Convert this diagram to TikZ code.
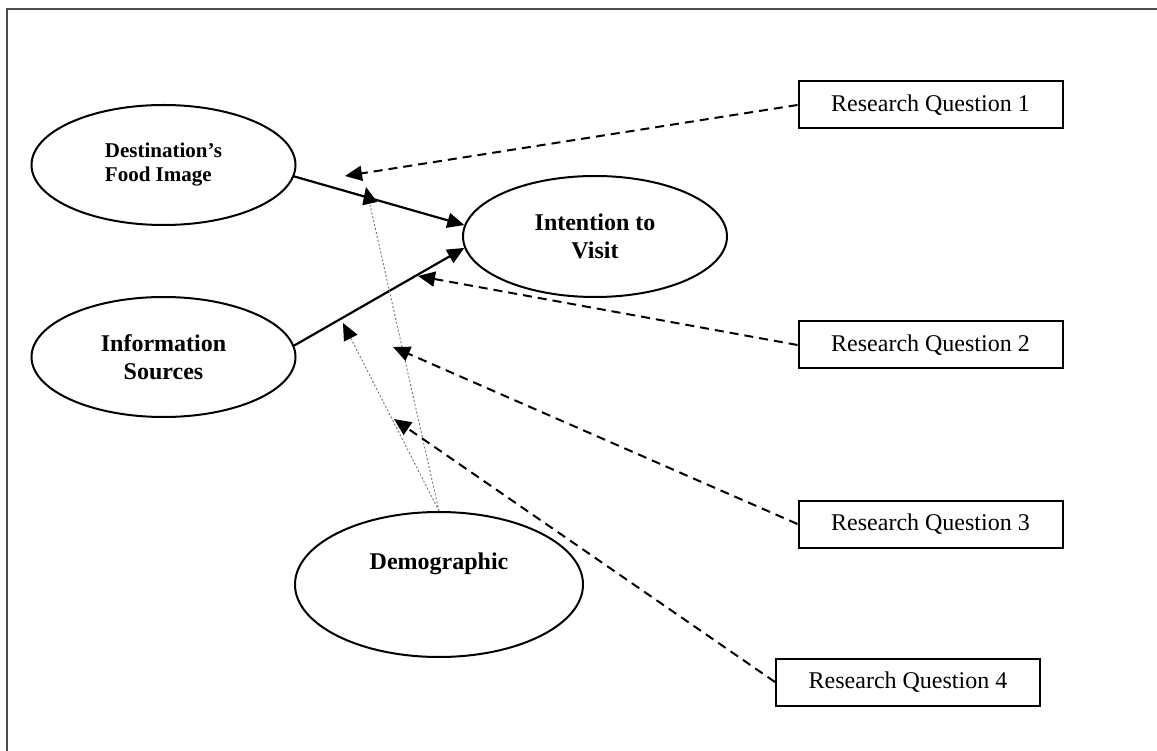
\documentclass[tikz,border=0pt]{standalone}
\usepackage{fontspec}
\setmainfont{Liberation Serif}
\usetikzlibrary{shapes.geometric,arrows.meta}

\begin{document}
\begin{tikzpicture}[x=1pt,y=-1pt,
  construct/.style={draw,ellipse,line width=2pt,inner sep=0pt,minimum width=264pt,minimum height=120pt,align=center,font=\fontsize{24}{28}\selectfont\bfseries},
  question/.style={draw,rectangle,line width=2pt,inner sep=0pt,minimum width=264pt,minimum height=47pt,font=\fontsize{24}{28}\selectfont},
  effect/.style={line width=2.2pt,-{Triangle[length=17pt,width=15pt]}},
  rqlink/.style={line width=2pt,dash pattern=on 9pt off 6pt,-{Triangle[length=17pt,width=15pt]}},
  moderate/.style={line width=0.9pt,black!55,dash pattern=on 2pt off 2pt,-{Triangle[length=17pt,width=15pt,color=black]}}]

\useasboundingbox (0,0) rectangle (1157,751);
\draw[line width=1.4pt,black!70] (7,751) -- (7,9) -- (1157,9);

\node[construct,align=left,font=\fontsize{21}{24}\selectfont\bfseries] (food) at (163.5,165) {Destination’s\\Food Image};
\node[construct] (info) at (163.5,357) {Information\\Sources};
\node[construct,minimum height=121pt] (visit) at (595,236.5) {Intention to\\Visit};
\node[construct,minimum width=288pt,minimum height=145pt,text depth=46pt] (demo) at (439,584.5) {Demographic};

\node[question] (rq1) at (930.5,105) {Research Question 1};
\node[question] (rq2) at (930.5,345) {Research Question 2};
\node[question] (rq3) at (930.5,524) {Research Question 3};
\node[question] (rq4) at (908,682) {Research Question 4};

\coordinate (t1) at (345,176);
\coordinate (t2) at (418,276);
\coordinate (t3) at (393,347);
\coordinate (t4) at (394,419);
\coordinate (m1) at (366,187);
\coordinate (m2) at (343,323);

\draw[effect] (food.-5) -- (visit.175);
\draw[effect] (info.5) -- (visit.185);

\draw[moderate] (demo.north) -- (m1);
\draw[moderate] (demo.north) -- (m2);

\draw[rqlink] (rq1.west) -- (t1);
\draw[rqlink] (rq2.west) -- (t2);
\draw[rqlink] (rq3.west) -- (t3);
\draw[rqlink] (rq4.west) -- (t4);
\end{tikzpicture}
\end{document}
